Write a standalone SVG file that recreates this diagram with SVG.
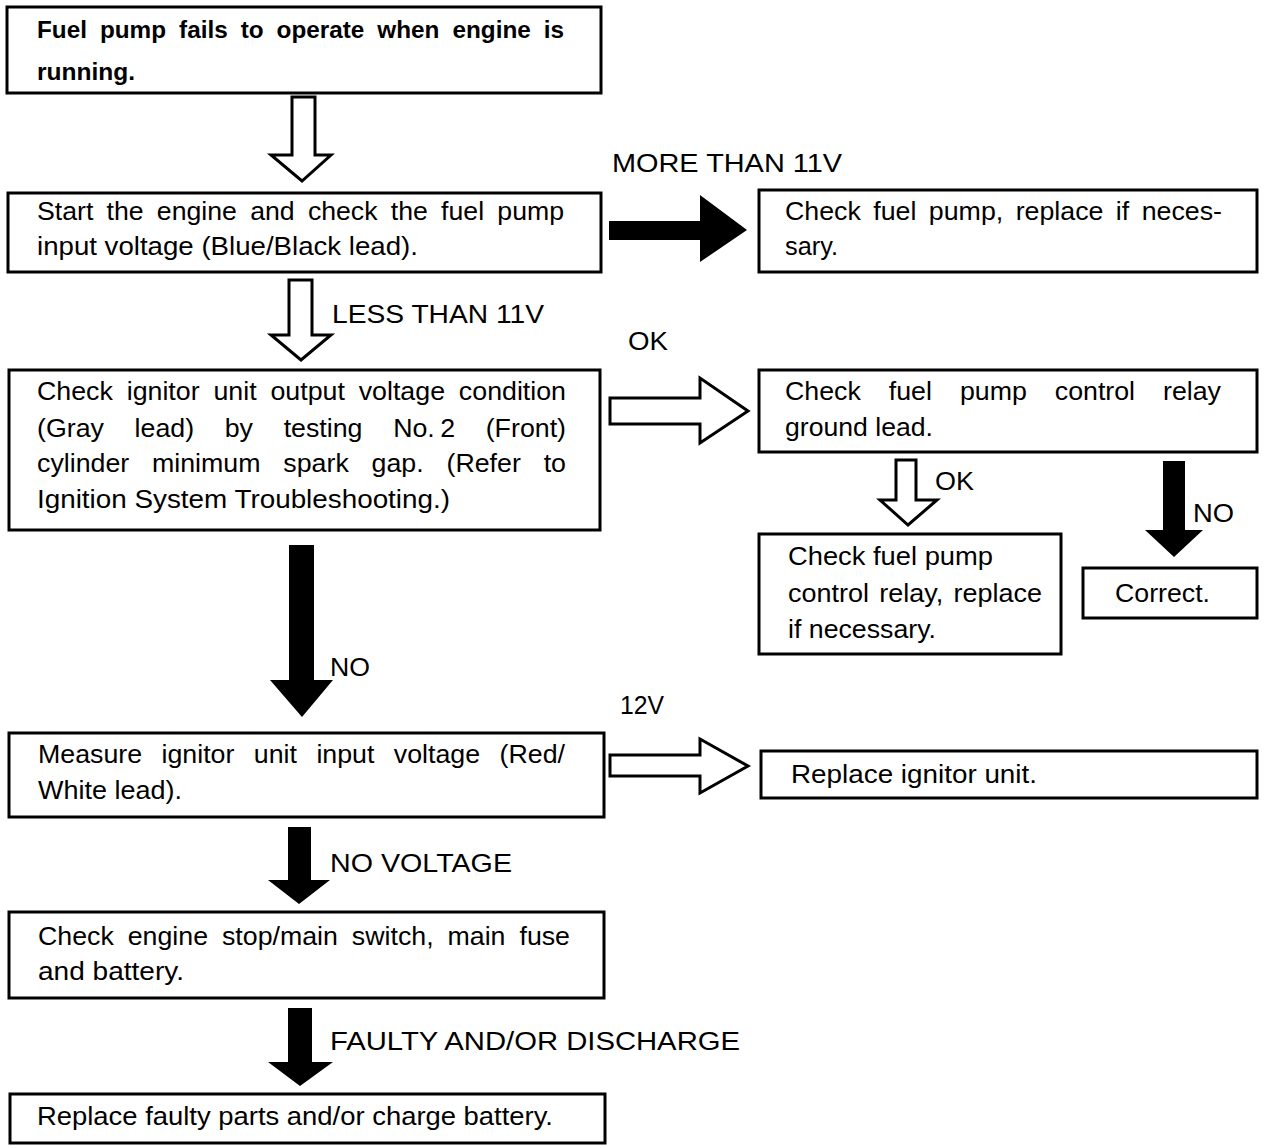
<svg xmlns="http://www.w3.org/2000/svg" width="1267" height="1146" viewBox="0 0 1267 1146">
<style>
.box{fill:#fff;stroke:#000;stroke-width:3}
.t{font-family:"Liberation Sans",Arial,sans-serif;font-size:25px;fill:#000}
.b{font-weight:bold;font-size:23px}
.hollow{fill:#fff;stroke:#000;stroke-width:3;stroke-linejoin:miter}
.solid{fill:#000;stroke:none}
</style>
<rect width="1267" height="1146" fill="#fff"/>
<g id="connectors">
  <path class="hollow" d="M292,97 H315 V155 H331 L302,181 L271,155 H292 Z"/>
  <path class="solid" d="M609,221 H700 V195 L747,230 L700,262 V240 H609 Z"/>
  <text class="t" x="612" y="172" textLength="230" lengthAdjust="spacingAndGlyphs">MORE THAN 11V</text>
  <path class="hollow" d="M289,280 H312 V335 H331 L301,360 L271,335 H289 Z"/>
  <text class="t" x="332" y="323" textLength="212" lengthAdjust="spacingAndGlyphs">LESS THAN 11V</text>
  <text class="t" x="628" y="350" textLength="40" lengthAdjust="spacingAndGlyphs">OK</text>
  <path class="hollow" d="M610,398 H700 V378 L748,411 L700,443 V424 H610 Z"/>
  <path class="hollow" d="M896,460 H916 V500 H937 L908,525 L880,500 H896 Z"/>
  <text class="t" x="935" y="490" textLength="39" lengthAdjust="spacingAndGlyphs">OK</text>
  <path class="solid" d="M1163,461 H1185 V530 H1203 L1174,557 L1145,530 H1163 Z"/>
  <text class="t" x="1193" y="522" textLength="41" lengthAdjust="spacingAndGlyphs">NO</text>
  <path class="solid" d="M289,545 H314 V680 H333 L302,717 L270,680 H289 Z"/>
  <text class="t" x="330" y="676" textLength="40" lengthAdjust="spacingAndGlyphs">NO</text>
  <text class="t" x="620" y="714" textLength="44" lengthAdjust="spacingAndGlyphs">12V</text>
  <path class="hollow" d="M610,755 H700 V739 L748,766 L700,793 V776 H610 Z"/>
  <path class="solid" d="M288,827 H311 V880 H330 L299,904 L268,880 H288 Z"/>
  <text class="t" x="330" y="872" textLength="182" lengthAdjust="spacingAndGlyphs">NO VOLTAGE</text>
  <path class="solid" d="M288,1008 H312 V1062 H333 L300,1086 L268,1062 H288 Z"/>
  <text class="t" x="330" y="1050" textLength="410" lengthAdjust="spacingAndGlyphs">FAULTY AND/OR DISCHARGE</text>
</g>
<g id="n1">
  <rect class="box" x="7" y="7" width="594" height="86"/>
  <text class="t b" x="37" y="38" word-spacing="5.9" textLength="527" lengthAdjust="spacingAndGlyphs">Fuel pump fails to operate when engine is</text>
  <text class="t b" x="37" y="80" textLength="98" lengthAdjust="spacingAndGlyphs">running.</text>
</g>
<g id="n2">
  <rect class="box" x="8" y="193" width="593" height="79"/>
  <text class="t" x="37" y="220" word-spacing="5.5" textLength="527" lengthAdjust="spacingAndGlyphs">Start the engine and check the fuel pump</text>
  <text class="t" x="37" y="255" textLength="381" lengthAdjust="spacingAndGlyphs">input voltage (Blue/Black lead).</text>
</g>
<g id="n3">
  <rect class="box" x="759" y="190" width="498" height="82"/>
  <text class="t" x="785" y="220" word-spacing="4.7" textLength="437" lengthAdjust="spacingAndGlyphs">Check fuel pump, replace if neces-</text>
  <text class="t" x="785" y="255" textLength="53" lengthAdjust="spacingAndGlyphs">sary.</text>
</g>
<g id="n4">
  <rect class="box" x="9" y="370" width="591" height="160"/>
  <text class="t" x="37" y="400" word-spacing="6" textLength="529" lengthAdjust="spacingAndGlyphs">Check ignitor unit output voltage condition</text>
  <text class="t" x="37" y="437" word-spacing="21.7" textLength="529" lengthAdjust="spacingAndGlyphs">(Gray lead) by testing No.&#8201;2 (Front)</text>
  <text class="t" x="37" y="472" word-spacing="14.4" textLength="529" lengthAdjust="spacingAndGlyphs">cylinder minimum spark gap. (Refer to</text>
  <text class="t" x="37" y="508" textLength="413" lengthAdjust="spacingAndGlyphs">Ignition System Troubleshooting.)</text>
</g>
<g id="n5">
  <rect class="box" x="759" y="370" width="498" height="82"/>
  <text class="t" x="785" y="400" word-spacing="19.2" textLength="436" lengthAdjust="spacingAndGlyphs">Check fuel pump control relay</text>
  <text class="t" x="785" y="436" textLength="148" lengthAdjust="spacingAndGlyphs">ground lead.</text>
</g>
<g id="n6">
  <rect class="box" x="759" y="534" width="302" height="120"/>
  <text class="t" x="788" y="565" textLength="205" lengthAdjust="spacingAndGlyphs">Check fuel pump</text>
  <text class="t" x="788" y="602" word-spacing="2.7" textLength="254" lengthAdjust="spacingAndGlyphs">control relay, replace</text>
  <text class="t" x="788" y="638" textLength="148" lengthAdjust="spacingAndGlyphs">if necessary.</text>
</g>
<g id="n7">
  <rect class="box" x="1083" y="568" width="174" height="50"/>
  <text class="t" x="1115" y="602" textLength="95" lengthAdjust="spacingAndGlyphs">Correct.</text>
</g>
<g id="n8">
  <rect class="box" x="9" y="733" width="595" height="84"/>
  <text class="t" x="38" y="763" word-spacing="11.2" textLength="527" lengthAdjust="spacingAndGlyphs">Measure ignitor unit input voltage (Red/</text>
  <text class="t" x="38" y="799" textLength="144" lengthAdjust="spacingAndGlyphs">White lead).</text>
</g>
<g id="n9">
  <rect class="box" x="761" y="751" width="496" height="47"/>
  <text class="t" x="791" y="783" textLength="246" lengthAdjust="spacingAndGlyphs">Replace ignitor unit.</text>
</g>
<g id="n10">
  <rect class="box" x="9" y="912" width="595" height="86"/>
  <text class="t" x="38" y="945" word-spacing="6.1" textLength="532" lengthAdjust="spacingAndGlyphs">Check engine stop/main switch, main fuse</text>
  <text class="t" x="38" y="980" textLength="146" lengthAdjust="spacingAndGlyphs">and battery.</text>
</g>
<g id="n11">
  <rect class="box" x="10" y="1094" width="595" height="49"/>
  <text class="t" x="37" y="1125" textLength="516" lengthAdjust="spacingAndGlyphs">Replace faulty parts and/or charge battery.</text>
</g>
</svg>
